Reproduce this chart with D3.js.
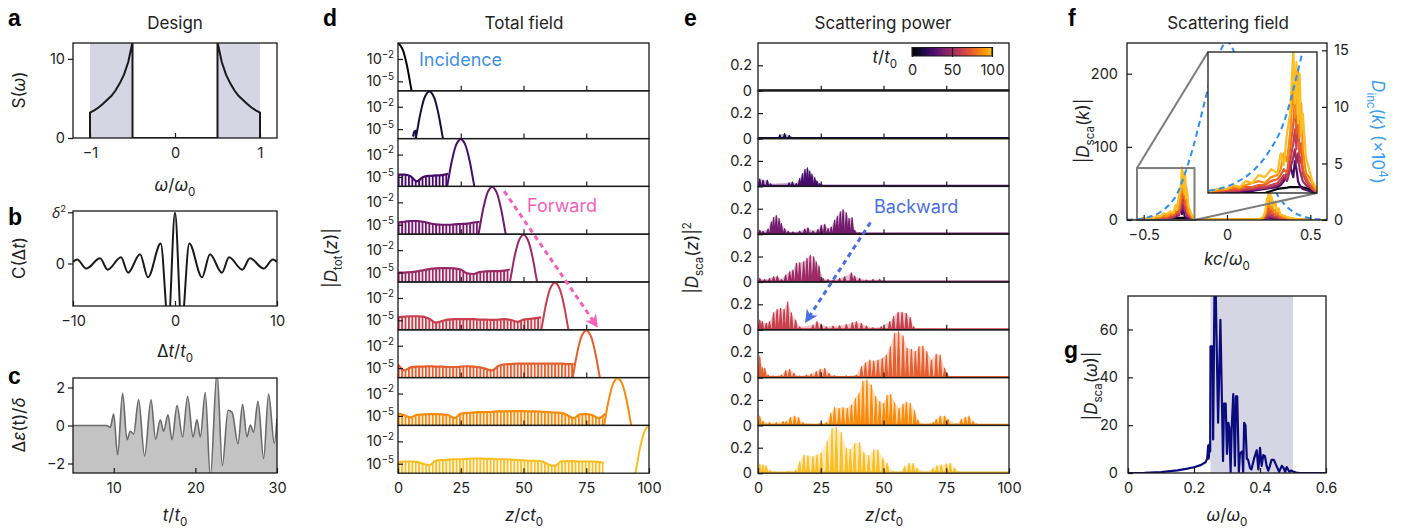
<!DOCTYPE html>
<html>
<head>
<meta charset="utf-8">
<title>Spatiotemporal scattering</title>
<script src="https://cdn.jsdelivr.net/npm/d3@7"></script>
<style>
  body { margin: 0; background: #fff; }
  svg text { font-family: Inter, "Noto Sans", "DejaVu Sans", sans-serif; fill: #222; }
</style>
</head>
<body>
<svg id="fig" width="1402" height="532"></svg>
<script>
// ---------------- data ----------------

// a: design spectrum S(w)
const designW = [-1, -1, -0.95, -0.9, -0.85, -0.8, -0.75, -0.7, -0.65, -0.6, -0.55, -0.5, -0.5,
                 0.5, 0.5, 0.55, 0.6, 0.65, 0.7, 0.75, 0.8, 0.85, 0.9, 0.95, 1, 1];
const designS = [0, 3.2, 3.5, 3.85, 4.3, 4.8, 5.3, 6.0, 6.9, 8.0, 9.6, 12.1, 0,
                 0, 12.1, 9.6, 8.0, 6.9, 6.0, 5.3, 4.8, 4.3, 3.85, 3.5, 3.2, 0];
const designBands = [[-1, -0.5], [0.5, 1]];

// b: correlation C(dt)
const corrT = [-10, -9.6, -8.7, -7.35, -6.6, -5.3, -4.6, -3.43, -2.65, -1.4, -0.65, 0,
               0.65, 1.4, 2.65, 3.43, 4.6, 5.3, 6.6, 7.35, 8.7, 9.6, 10];
const corrC = [0.03, 0.08, -0.1, 0.1, -0.12, 0.12, -0.18, 0.18, -0.27, 0.39, -1.2, 0.99,
               -1.2, 0.39, -0.27, 0.18, -0.18, 0.12, -0.12, 0.1, -0.1, 0.08, 0.03];

// c: modulation de(t)/delta
const epsT = [5, 9.08, 9.57, 9.98, 10.47, 11.08, 11.62, 12.02, 12.43, 13.04, 13.77, 14.56, 15.12,
              15.70, 16.10, 16.64, 17.13, 17.75, 18.43, 19.04, 19.71, 20.20, 20.60, 21.21, 21.83,
              22.65, 23.30, 24.0, 24.49, 25.22, 25.78, 26.32, 26.73, 27.13, 27.67, 28.36, 28.97, 29.67, 30];
const epsV = [0, 0, -0.1, 0.6, -1.54, 1.70, -0.75, -0.3, -0.45, 1.35, -1.6, 1.35, -0.72,
              0.3, -0.3, 0.56, -0.75, 1.05, -0.6, 1.53, -0.6, 0.3, -0.6, 1.74, -2.7,
              2.8, -2.1, 0.8, 0.7, -0.95, 1.1, -0.6, 0.03, -0.35, 1.27, -1.73, 1.66, -0.93, 0.35];

// d: total field snapshots (log10 values)
const snapTimes = [0, 12.5, 25, 37.5, 50, 62.5, 75, 87.5, 100];
const pulseCenters = [0, 12.5, 25, 37.5, 50, 62.5, 75, 87.5, 100];
const pulseDz = [-5.6, -5, -4.5, -4, -3, -2, -1, 0, 1, 2, 3, 4, 4.5, 5, 5.6];
const pulseLog = [-6.6, -5.5, -4.55, -3.6, -2.05, -0.85, -0.2, 0.05, -0.2, -0.85, -2.05, -3.6, -4.55, -5.5, -6.6];
const fringeTops = [
  [],
  [[6.0, -6.0], [6.6, -5.3], [7.4, -5.2]],
  [[0, -4.7], [2.5, -4.7], [5, -4.9], [7.5, -5.6], [10, -5.0], [12.5, -4.85], [15, -4.8], [17.5, -4.75], [20, -4.6]],
  [[0, -4.7], [2.5, -4.6], [5, -4.5], [7.5, -4.5], [10, -4.6], [12.5, -4.8], [15, -4.95], [17.5, -5.0], [20, -5.0],
   [22.5, -4.95], [25, -4.9], [27.5, -4.85], [30, -4.7], [32.5, -4.6]],
  [[0, -5.0], [2.5, -5.0], [5, -4.95], [7.5, -4.85], [10, -4.7], [12.5, -4.55], [15, -4.45], [17.5, -4.4], [20, -4.4],
   [22.5, -4.45], [25, -4.6], [27.5, -5.1], [30, -5.2], [32.5, -4.95], [35, -4.85], [37.5, -4.8], [40, -4.8],
   [42.5, -4.75], [44.5, -4.6]],
  [[0, -4.6], [2.5, -4.5], [5, -4.45], [7.5, -4.45], [10, -4.5], [12.5, -4.8], [15, -5.3], [17.5, -5.1], [20, -4.9],
   [22.5, -4.85], [25, -4.85], [27.5, -4.85], [30, -4.85], [32.5, -4.9], [35, -4.9], [37.5, -4.95], [40, -4.9],
   [42.5, -4.85], [45, -4.95], [47.5, -5.2], [50, -4.9], [52.5, -4.8], [55, -4.7], [57, -4.6]],
  [[0, -4.5], [2.5, -5.3], [5, -4.9], [7.5, -4.8], [10, -4.8], [12.5, -4.75], [15, -4.8], [17.5, -4.8], [20, -4.85],
   [22.5, -4.85], [25, -4.8], [27.5, -4.75], [30, -4.8], [32.5, -4.9], [35, -5.1], [37.5, -5.3], [40, -4.7],
   [42.5, -4.5], [45, -4.45], [47.5, -4.4], [50, -4.4], [52.5, -4.4], [55, -4.4], [57.5, -4.4], [60, -4.4],
   [62.5, -4.4], [65, -4.4], [67.5, -4.45], [70, -4.45]],
  [[0, -4.7], [2.5, -4.9], [5, -5.2], [7.5, -4.85], [10, -4.8], [12.5, -4.75], [15, -4.75], [17.5, -4.8], [20, -4.9],
   [22.5, -5.3], [25, -4.7], [27.5, -4.6], [30, -4.55], [32.5, -4.5], [35, -4.5], [37.5, -4.45], [40, -4.4],
   [42.5, -4.4], [45, -4.35], [47.5, -4.35], [50, -4.35], [52.5, -4.4], [55, -4.4], [57.5, -4.45], [60, -4.5],
   [62.5, -4.55], [65, -4.6], [67.5, -4.9], [70, -5.3], [72.5, -4.8], [75, -4.75], [77.5, -4.9], [80, -5.3], [82.5, -4.7]],
  [[0, -4.8], [2.5, -4.7], [5, -4.7], [7.5, -4.75], [10, -5.0], [12.5, -5.2], [15, -4.6], [17.5, -4.5], [20, -4.45],
   [22.5, -4.4], [25, -4.4], [27.5, -4.35], [30, -4.3], [32.5, -4.3], [35, -4.35], [37.5, -4.35], [40, -4.4],
   [42.5, -4.4], [45, -4.45], [47.5, -4.5], [50, -4.55], [52.5, -4.6], [55, -4.6], [57.5, -4.7], [60, -5.1],
   [62.5, -5.3], [65, -4.7], [67.5, -4.65], [70, -4.65], [72.5, -4.7], [75, -4.7], [77.5, -4.7], [80, -4.75], [82, -4.9]]
];

// e: scattering power spikes [z, |Dsca|^2]
const scatSpikes = [
  [],
  [[8.7, 0.03], [10.6, 0.04], [12.5, 0.025], [14.4, 0.008]],
  [[0.7, 0.059], [2.0, 0.049], [3.7, 0.049], [5.0, 0.02], [12.4, 0.028], [13.7, 0.035], [15.3, 0.022], [16.6, 0.062],
   [17.7, 0.10], [18.7, 0.132], [19.7, 0.145], [20.6, 0.12], [21.5, 0.095], [22.6, 0.07], [23.5, 0.043], [24.6, 0.022], [25.6, 0.01]],
  [[0.7, 0.031], [2.0, 0.024], [4.0, 0.04], [5.3, 0.097], [6.2, 0.13], [7.3, 0.146], [8.4, 0.123], [9.3, 0.084],
   [10.6, 0.044], [12.0, 0.024], [13.9, 0.018], [16.6, 0.024], [18.6, 0.04], [19.9, 0.05], [21.9, 0.026], [23.9, 0.037],
   [25.2, 0.07], [26.6, 0.078], [27.9, 0.044], [29.2, 0.057], [30.5, 0.11], [31.6, 0.141], [32.8, 0.175], [33.9, 0.193],
   [35.2, 0.167], [36.3, 0.123], [37.5, 0.13], [38.5, 0.031], [40.5, 0.01]],
  [[0.7, 0.028], [2.7, 0.02], [4.6, 0.028], [6.2, 0.041], [7.7, 0.046], [9.3, 0.02], [11.0, 0.054], [12.6, 0.08],
   [13.9, 0.093], [15.3, 0.146], [16.6, 0.151], [18.2, 0.159], [19.5, 0.185], [20.8, 0.21], [22.2, 0.198], [23.2, 0.159],
   [24.3, 0.125], [25.9, 0.028], [27.9, 0.02], [30.0, 0.015], [32.5, 0.028], [34.5, 0.041], [37.2, 0.072], [38.5, 0.046],
   [40.5, 0.028], [43.2, 0.015], [45.8, 0.02], [48.5, 0.02], [50.5, 0.007]],
  [[0.7, 0.077], [1.7, 0.064], [3.3, 0.05], [4.6, 0.064], [6.2, 0.134], [7.6, 0.16], [9.0, 0.168], [10.4, 0.16],
   [11.8, 0.22], [13.3, 0.134], [15.0, 0.077], [16.6, 0.024], [21.9, 0.037], [23.5, 0.064], [25.2, 0.045], [27.2, 0.024],
   [29.9, 0.03], [32.5, 0.032], [35.2, 0.042], [37.6, 0.056], [39.2, 0.064], [41.2, 0.05], [43.2, 0.03], [45.8, 0.017],
   [49.1, 0.024], [52.5, 0.064], [54.0, 0.103], [55.8, 0.137], [57.4, 0.137], [59.1, 0.129], [60.7, 0.097], [62.0, 0.024]],
  [[0.7, 0.17], [1.7, 0.08], [2.7, 0.073], [4.0, 0.02], [6.0, 0.013], [9.3, 0.02], [11.0, 0.055], [12.6, 0.065],
   [14.3, 0.034], [16.6, 0.013], [19.3, 0.02], [21.2, 0.028], [23.2, 0.047], [24.8, 0.065], [26.6, 0.073], [28.3, 0.034],
   [30.5, 0.015], [35.2, 0.013], [39.2, 0.02], [41.2, 0.086], [42.8, 0.117], [44.5, 0.138], [46.1, 0.13], [47.8, 0.138],
   [49.5, 0.151], [51.1, 0.177], [52.7, 0.243], [54.4, 0.347], [56.0, 0.36], [57.8, 0.327], [59.4, 0.23], [61.1, 0.222],
   [62.7, 0.204], [64.1, 0.243], [65.7, 0.248], [67.3, 0.204], [69.1, 0.138], [71.0, 0.185], [72.6, 0.177], [74.4, 0.073], [75.3, 0.034]],
  [[0.7, 0.074], [2.0, 0.03], [4.6, 0.022], [7.3, 0.022], [10.0, 0.03], [11.3, 0.03], [12.9, 0.064], [14.6, 0.074],
   [16.2, 0.061], [17.9, 0.022], [20.6, 0.011], [24.6, 0.017], [27.2, 0.022], [29.0, 0.095], [30.5, 0.14], [32.3, 0.134],
   [33.9, 0.14], [35.6, 0.134], [37.2, 0.16], [38.8, 0.213], [40.2, 0.252], [41.8, 0.349], [43.4, 0.357], [45.2, 0.317],
   [46.9, 0.226], [48.5, 0.187], [50.1, 0.174], [51.4, 0.239], [52.9, 0.244], [54.4, 0.179], [56.2, 0.134], [57.8, 0.168],
   [59.1, 0.181], [60.7, 0.174], [62.4, 0.116], [63.7, 0.043], [65.7, 0.011], [69.7, 0.022], [71.0, 0.048], [72.6, 0.074],
   [74.4, 0.074], [75.7, 0.048], [79.0, 0.011], [81.0, 0.048], [82.6, 0.064], [84.1, 0.074], [85.7, 0.03], [87.0, 0.011]],
  [[0.7, 0.071], [2.0, 0.065], [3.3, 0.058], [4.9, 0.021], [8.6, 0.008], [11.9, 0.013], [15.0, 0.026], [16.6, 0.092],
   [18.3, 0.144], [19.9, 0.136], [21.9, 0.131], [23.5, 0.144], [25.2, 0.162], [27.6, 0.248], [29.5, 0.353], [31.2, 0.361],
   [33.2, 0.319], [35.2, 0.196], [36.8, 0.188], [38.5, 0.235], [40.5, 0.24], [42.2, 0.162], [44.1, 0.136], [46.1, 0.183],
   [47.8, 0.183], [49.8, 0.118], [51.5, 0.078], [53.8, 0.013], [56.4, 0.005], [58.4, 0.052], [60.2, 0.078], [61.8, 0.078],
   [63.4, 0.039], [67.0, 0.008], [69.7, 0.039], [71.3, 0.06], [73.0, 0.065], [75.0, 0.073], [76.6, 0.078], [78.4, 0.039], [79.7, 0.013]]
];

// f: scattering field spectra |Dsca(k)| for several times, and incident spectrum (x1e4)
const specTimes = [0, 25, 50, 62.5, 75, 87.5, 100];
const kLeft = [-0.54, -0.52, -0.50, -0.48, -0.46, -0.44, -0.42, -0.40, -0.38, -0.36, -0.34, -0.32, -0.31, -0.30,
               -0.29, -0.28, -0.27, -0.265, -0.26, -0.255, -0.25, -0.245, -0.24, -0.23, -0.22, -0.21, -0.20, -0.19];
const specLeft = [
  [0, 0, 0, 0, 0, 0, 0, 0, 0, 0, 1, 2, 2.3, 2.5, 2.7, 3, 3, 3, 3, 3, 3, 3, 2.8, 2.5, 2, 1.5, 1, 0.5],
  [0, 0, 0.2, 0.3, 0.5, 0.5, 1, 1, 1.5, 2, 2.5, 3, 4, 6, 10, 14, 8, 16, 12, 6, 4, 3, 2, 1.5, 1, 0.5, 0, 0],
  [0, 0.3, 0.5, 0.8, 1, 1, 1.5, 2, 2, 2.5, 3, 4, 5, 8, 6, 12, 18, 22, 15, 20, 12, 9, 6, 4, 3, 2, 1, 0.3],
  [0.1, 0.3, 0.5, 1, 1, 1.5, 2, 2, 3, 3, 4, 5, 7, 9, 8, 16, 25, 32, 22, 45, 15, 18, 10, 6, 4, 2, 1, 0.3],
  [0.2, 0.5, 1, 1.5, 2, 2, 3, 3, 4, 4, 6, 7, 9, 12, 10, 22, 35, 45, 30, 40, 20, 25, 12, 8, 5, 3, 1, 0.5],
  [0.3, 1, 1.5, 2, 3, 2.5, 4, 5, 6, 5, 8, 9, 12, 20, 16, 30, 55, 38, 50, 62, 28, 45, 22, 10, 8, 5, 2, 1],
  [0.5, 1.5, 2.5, 2, 4, 3, 6, 5, 9, 8, 12, 10, 20, 14, 30, 40, 72, 45, 66, 35, 60, 30, 40, 18, 12, 6, 3, 1]
];
const kRight = [0.19, 0.21, 0.22, 0.23, 0.24, 0.245, 0.25, 0.255, 0.26, 0.265, 0.27, 0.28, 0.29, 0.30, 0.31,
                0.32, 0.34, 0.36, 0.38, 0.40, 0.44, 0.48, 0.52];
const specRight = [
  [0.5, 1, 1.5, 2, 2.5, 2.5, 2.5, 2.5, 2.5, 2.5, 2.5, 2, 2, 1.5, 1.2, 1, 0.5, 0.2, 0, 0, 0, 0, 0],
  [0, 0.2, 0.5, 1, 2, 2, 3, 2.5, 2.5, 2, 2, 1.5, 1.5, 1, 1, 0.8, 0.5, 0.3, 0.2, 0, 0, 0, 0],
  [0.2, 0.5, 1, 2, 4, 3, 6, 5, 5, 4, 4, 3, 3, 2, 2, 1.5, 1, 0.8, 0.5, 0.3, 0.2, 0, 0],
  [0.3, 1, 2, 4, 8, 6, 12, 9, 10, 6, 7, 5, 5, 4, 3, 2, 2, 1, 1, 0.5, 0.3, 0.1, 0],
  [0.5, 1.5, 3, 6, 12, 10, 22, 14, 18, 10, 12, 8, 9, 6, 6, 4, 3, 2, 1.5, 1, 0.5, 0.2, 0],
  [0.8, 2, 4, 8, 20, 28, 18, 32, 22, 15, 20, 12, 14, 8, 10, 6, 4, 3, 2, 1.5, 0.8, 0.3, 0],
  [1, 3, 6, 12, 30, 22, 45, 28, 40, 20, 30, 18, 25, 12, 16, 8, 6, 4, 3, 2, 1, 0.5, 0]
];
const dincK = [-0.6, -0.55, -0.5, -0.45, -0.4, -0.35, -0.3, -0.25, -0.2, -0.15, -0.1, -0.05, 0,
               0.05, 0.1, 0.15, 0.2, 0.25, 0.3, 0.35, 0.4, 0.45, 0.5, 0.55, 0.6];
const dincV = [0.02, 0.06, 0.15, 0.35, 0.7, 1.3, 2.3, 4.2, 6.6, 9.5, 12.4, 14.6, 15.8,
               14.6, 12.4, 9.5, 6.6, 4.2, 2.3, 1.3, 0.7, 0.35, 0.15, 0.06, 0.02];
const zoomK = [-0.54, -0.195];
const zoomY = [0, 71];

// g: |Dsca(w)|
const gOmega = [0, 0.05, 0.1, 0.15, 0.18, 0.2, 0.22, 0.235, 0.24, 0.243, 0.245, 0.247, 0.249, 0.25, 0.256,
                0.258, 0.262, 0.266, 0.273, 0.280, 0.288, 0.291, 0.296, 0.300, 0.304, 0.307, 0.311, 0.314,
                0.319, 0.324, 0.327, 0.331, 0.336, 0.339, 0.342, 0.346, 0.349, 0.352, 0.356, 0.360, 0.364,
                0.370, 0.374, 0.382, 0.390, 0.395, 0.400, 0.405, 0.410, 0.415, 0.420, 0.425, 0.430, 0.435,
                0.442, 0.450, 0.458, 0.466, 0.472, 0.476, 0.481, 0.485, 0.489, 0.494, 0.50, 0.51, 0.52, 0.6];
const gVal = [0, 0.1, 0.4, 1.1, 1.8, 2.4, 3.3, 4.5, 6, 11.5, 6, 12, 9, 53, 53,
              14, 74.5, 74.5, 21, 64, 5, 29, 29, 8, 21, 19, 0.5, 18,
              33, 3, 32, 32, 0.5, 8, 8.5, 9, 0.5, 21, 20, 6, 5.5,
              2, 1.5, 6, 9.5, 1.5, 10.5, 3, 7.5, 7, 3, 1, 3, 5.5,
              5.5, 3, 0.5, 3, 2, 0.5, 2.5, 1.5, 0.5, 1, 0.6, 0.2, 0, 0];
const gBand = [0.25, 0.5];

// annotation arrows: [z, panel index, value]
const forwardArrow = [[42.3, 3, -0.5], [78.5, 5, -5.43]];
const backwardArrow = [[44.8, 3, 0.092], [19.9, 5, 0.088]];

// ---------------- drawing ----------------
const svg = d3.select('#fig');
const defs = svg.append('defs');
const INK = '#1a1a1a';
const SHADE = '#d5d5e4';
const tColor = t => d3.interpolateInferno(0.85 * t / 100);

let clipN = 0;
function clipRect(x0, y0, x1, y1) {
  const id = 'clip' + (clipN++);
  defs.append('clipPath').attr('id', id).append('rect')
    .attr('x', x0).attr('y', y0).attr('width', x1 - x0).attr('height', y1 - y0);
  return 'url(#' + id + ')';
}

function frame(x0, y0, x1, y1) {
  svg.append('rect').attr('x', x0).attr('y', y0).attr('width', x1 - x0).attr('height', y1 - y0)
    .attr('fill', 'none').attr('stroke', INK).attr('stroke-width', 1.3);
}

function axis(gen, x, y) {
  const g = svg.append('g').attr('transform', `translate(${x},${y})`).call(gen);
  g.attr('font-size', 14.5);
  g.select('.domain').remove();
  g.selectAll('line').attr('stroke', INK).attr('stroke-width', 1.2);
  return g;
}

// text with italic / sub / superscript parts
function label(x, y, parts, o = {}) {
  const size = o.size || 17;
  const t = svg.append('text').attr('x', x).attr('y', y)
    .attr('font-size', size).attr('text-anchor', o.anchor || 'middle');
  if (o.color) t.style('fill', o.color);
  if (o.rotate) t.attr('transform', `rotate(${o.rotate},${x},${y})`);
  let cur = 0;
  parts.forEach(p => {
    if (typeof p === 'string') p = { t: p };
    const want = p.sub ? 0.28 * size : p.sup ? -0.42 * size : 0;
    const s = t.append('tspan').text(p.t).attr('dy', want - cur);
    cur = want;
    if (p.i) s.attr('font-style', 'italic');
    if (p.sub || p.sup) s.attr('font-size', size * 0.68);
  });
  return t;
}

function letter(x, y, s) {
  svg.append('text').attr('x', x).attr('y', y).text(s)
    .attr('font-size', 23).attr('font-weight', 'bold')
    .style('font-family', '"Liberation Sans", Arial, sans-serif').style('fill', '#000');
}

// ===== a =====
const ax = d3.scaleLinear().domain([-1.2, 1.2]).range([73, 277]);
const ay = d3.scaleLinear().domain([0, 12]).range([138, 43]);
svg.append('g').selectAll('rect').data(designBands).join('rect')
  .attr('x', d => ax(d[0])).attr('width', d => ax(d[1]) - ax(d[0]))
  .attr('y', ay(12)).attr('height', ay(0) - ay(12)).attr('fill', SHADE);
svg.append('path').datum(d3.zip(designW, designS))
  .attr('clip-path', clipRect(73, 43, 277, 138))
  .attr('d', d3.line().x(d => ax(d[0])).y(d => ay(d[1])))
  .attr('fill', 'none').attr('stroke', INK).attr('stroke-width', 2);
frame(73, 43, 277, 138);
axis(d3.axisLeft(ay).tickValues([0, 10]).tickSize(5).tickPadding(3), 73, 0);
axis(d3.axisBottom(ax).tickValues([-1, 0, 1]).tickSize(-5).tickPadding(10).tickFormat(d3.format('d')), 0, 138);
label(175, 29, ['Design']);
label(175, 191, [{ t: 'ω', i: 1 }, '/', { t: 'ω', i: 1 }, { t: '0', sub: 1 }]);
label(25, 90, ['S(', { t: 'ω', i: 1 }, ')'], { rotate: -90 });
letter(8, 26, 'a');

// ===== b =====
const bx = d3.scaleLinear().domain([-10, 10]).range([73, 277]);
const by = d3.scaleLinear().domain([-0.83, 1.025]).range([306, 211]);
svg.append('path').datum(d3.zip(corrT, corrC))
  .attr('clip-path', clipRect(73, 211, 277, 306))
  .attr('d', d3.line().x(d => bx(d[0])).y(d => by(d[1])).curve(d3.curveMonotoneX))
  .attr('fill', 'none').attr('stroke', INK).attr('stroke-width', 2);
frame(73, 211, 277, 306);
axis(d3.axisLeft(by).tickValues([0, 1]).tickSize(5).tickPadding(3).tickFormat(d => d === 0 ? '0' : ''), 73, 0);
label(66, by(1) + 6, [{ t: 'δ', i: 1 }, { t: '2', sup: 1 }], { anchor: 'end', size: 14 });
axis(d3.axisBottom(bx).tickValues([-10, 0, 10]).tickSize(-5).tickPadding(10).tickFormat(d3.format('d')), 0, 306);
label(175, 357, ['Δ', { t: 't', i: 1 }, '/', { t: 't', i: 1 }, { t: '0', sub: 1 }]);
label(25, 258, ['C(Δ', { t: 't', i: 1 }, ')'], { rotate: -90 });
letter(8, 225, 'b');

// ===== c =====
const cx = d3.scaleLinear().domain([5, 30]).range([73, 277]);
const cy = d3.scaleLinear().domain([-2.5, 2.5]).range([473, 378]);
const cClip = clipRect(73, 378, 277, 473);
svg.append('path').datum(d3.zip(epsT, epsV)).attr('clip-path', cClip)
  .attr('d', d3.area().x(d => cx(d[0])).y0(cy(-2.5)).y1(d => cy(d[1])).curve(d3.curveMonotoneX))
  .attr('fill', '#c3c3c3');
svg.append('path').datum(d3.zip(epsT, epsV)).attr('clip-path', cClip)
  .attr('d', d3.line().x(d => cx(d[0])).y(d => cy(d[1])).curve(d3.curveMonotoneX))
  .attr('fill', 'none').attr('stroke', '#6b6b6b').attr('stroke-width', 1.6);
frame(73, 378, 277, 473);
axis(d3.axisLeft(cy).tickValues([-2, 0, 2]).tickSize(5).tickPadding(3).tickFormat(d3.format('d')), 73, 0);
axis(d3.axisBottom(cx).tickValues([10, 20, 30]).tickSize(-5).tickPadding(10).tickFormat(d3.format('d')), 0, 473);
label(175, 521, [{ t: 't', i: 1 }, '/', { t: 't', i: 1 }, { t: '0', sub: 1 }]);
label(25, 425, ['Δ', { t: 'ε', i: 1 }, '(t)/', { t: 'δ', i: 1 }], { rotate: -90 });
letter(8, 384, 'c');

// ===== d =====
const D_TOP = 43, D_H = 47.8, LOG_MIN = -6.27, LOG_MAX = 0.14;
const dx = d3.scaleLinear().domain([0, 100]).range([398, 649]);
const dYScale = i => d3.scaleLog().domain([Math.pow(10, LOG_MIN), Math.pow(10, LOG_MAX)])
  .range([D_TOP + (i + 1) * D_H, D_TOP + i * D_H]);

snapTimes.forEach((t, i) => {
  const p = defs.append('pattern').attr('id', 'stripe' + i).attr('patternUnits', 'userSpaceOnUse')
    .attr('width', 3.4).attr('height', 8);
  p.append('rect').attr('width', 1.9).attr('height', 8).attr('fill', tColor(t));
});

snapTimes.forEach((t, i) => {
  const y0 = D_TOP + i * D_H, y1 = y0 + D_H;
  const dy = dYScale(i);
  const col = tColor(t);
  const g = svg.append('g').attr('clip-path', clipRect(398, y0, 649, y1));
  const fr = fringeTops[i];
  if (fr.length) {
    g.append('path').datum(fr)
      .attr('d', d3.area().x(d => dx(d[0])).y0(y1 + 2).y1(d => dy(Math.pow(10, d[1]))).curve(d3.curveMonotoneX))
      .attr('fill', `url(#stripe${i})`);
    g.append('path').datum(fr)
      .attr('d', d3.line().x(d => dx(d[0])).y(d => dy(Math.pow(10, d[1]))).curve(d3.curveMonotoneX))
      .attr('fill', 'none').attr('stroke', col).attr('stroke-width', 2.2);
  }
  const pulse = pulseDz.map((dz, j) => [pulseCenters[i] + dz, pulseLog[j]]);
  g.append('path').datum(pulse)
    .attr('d', d3.line().x(d => dx(d[0])).y(d => dy(Math.pow(10, d[1]))).curve(d3.curveMonotoneX))
    .attr('fill', 'none').attr('stroke', col).attr('stroke-width', 2);
  frame(398, y0, 649, y1);
  axis(d3.axisLeft(dy).tickValues([1e-2, 1e-5]).tickSize(-5).tickFormat(() => ''), 398, 0);
  [1e-2, 1e-5].forEach(v => {
    label(394, dy(v) + 5, ['10', { t: '−' + Math.round(-Math.log10(v)), sup: 1 }], { anchor: 'end', size: 14.5 });
  });
  const last = i === snapTimes.length - 1;
  axis(d3.axisBottom(dx).tickValues(last ? [0, 25, 50, 75, 100] : [25, 50, 75]).tickSize(-5).tickPadding(10)
    .tickFormat(last ? d3.format('d') : () => ''), 0, y1);
});
label(524, 29, ['Total field']);
label(524, 521, [{ t: 'z', i: 1 }, '/', { t: 'ct', i: 1 }, { t: '0', sub: 1 }]);
label(337, 258, ['|', { t: 'D', i: 1 }, { t: 'tot', sub: 1 }, '(', { t: 'z', i: 1 }, ')|'], { rotate: -90 });
letter(323, 26, 'd');
svg.append('text').attr('x', 419).attr('y', 66).text('Incidence')
  .attr('font-size', 18).style('fill', '#3f8fe8');

// ===== e =====
const ex = d3.scaleLinear().domain([0, 100]).range([758, 1009]);
const eYScale = i => d3.scaleLinear().domain([0, 0.375]).range([D_TOP + (i + 1) * D_H, D_TOP + i * D_H]);
snapTimes.forEach((t, i) => {
  const y0 = D_TOP + i * D_H, y1 = y0 + D_H;
  const ey = eYScale(i);
  const col = tColor(t);
  const g = svg.append('g').attr('clip-path', clipRect(758, y0, 1009, y1));
  const sp = scatSpikes[i];
  if (sp.length) {
    const env = [[sp[0][0] - 0.8, 0], ...sp, [sp[sp.length - 1][0] + 0.8, 0]];
    g.append('path').datum(env)
      .attr('d', d3.area().x(d => ex(d[0])).y0(ey(0)).y1(d => ey(d[1])))
      .attr('fill', col).attr('fill-opacity', 0.3);
    const spk = d3.line().x(d => ex(d[0])).y(d => ey(d[1]));
    g.selectAll('path.spk').data(sp).join('path').attr('class', 'spk')
      .attr('d', d => spk([[d[0] - 0.6, 0], [d[0], d[1]], [d[0] + 0.6, 0]]))
      .attr('fill', col).attr('stroke', col).attr('stroke-width', 1.1).attr('stroke-linejoin', 'round');
  }
  g.append('line').attr('x1', ex(0)).attr('x2', ex(100)).attr('y1', ey(0) - 0.8).attr('y2', ey(0) - 0.8)
    .attr('stroke', col).attr('stroke-width', 1.6);
  frame(758, y0, 1009, y1);
  axis(d3.axisLeft(ey).tickValues([0, 0.2]).tickSize(-5).tickPadding(6).tickFormat(d => d === 0 ? '0' : '0.2'), 758, 0);
  const last = i === snapTimes.length - 1;
  axis(d3.axisBottom(ex).tickValues(last ? [0, 25, 50, 75, 100] : [25, 50, 75]).tickSize(-5).tickPadding(10)
    .tickFormat(last ? d3.format('d') : () => ''), 0, y1);
});
label(883, 29, ['Scattering power']);
label(884, 521, [{ t: 'z', i: 1 }, '/', { t: 'ct', i: 1 }, { t: '0', sub: 1 }]);
label(698, 258, ['|', { t: 'D', i: 1 }, { t: 'sca', sub: 1 }, '(', { t: 'z', i: 1 }, ')|', { t: '2', sup: 1 }], { rotate: -90 });
letter(684, 26, 'e');

// colour bar
const grad = defs.append('linearGradient').attr('id', 'cbar');
d3.range(0, 1.0001, 0.1).forEach(s => grad.append('stop').attr('offset', s).attr('stop-color', tColor(100 * s)));
const cbx = d3.scaleLinear().domain([0, 100]).range([912, 992]);
svg.append('rect').attr('x', cbx(0)).attr('y', 47.5).attr('width', cbx(100) - cbx(0)).attr('height', 8.5)
  .attr('fill', 'url(#cbar)').attr('stroke', INK).attr('stroke-width', 1);
axis(d3.axisBottom(cbx).tickValues([0, 50, 100]).tickSize(-10).tickPadding(8).tickFormat(d3.format('d')), 0, 57);
label(897, 63, [{ t: 't', i: 1 }, '/', { t: 't', i: 1 }, { t: '0', sub: 1 }], { anchor: 'end' });

// arrows
function marker(id, col) {
  defs.append('marker').attr('id', id).attr('viewBox', '0 0 10 10').attr('refX', 6).attr('refY', 5)
    .attr('markerUnits', 'userSpaceOnUse').attr('markerWidth', 13).attr('markerHeight', 13).attr('orient', 'auto')
    .append('path').attr('d', 'M0,0 L10,5 L0,10 L3,5 z').attr('fill', col);
}
const PINK = '#f55fb9', BLUE = '#4a6ee6';
marker('mPink', PINK); marker('mBlue', BLUE);
const fpts = forwardArrow.map(d => [dx(d[0]), dYScale(d[1])(Math.pow(10, d[2]))]);
svg.append('path').datum(fpts).attr('d', d3.line())
  .attr('stroke', PINK).attr('stroke-width', 3).attr('stroke-dasharray', '5,4').attr('fill', 'none')
  .attr('marker-end', 'url(#mPink)');
svg.append('text').attr('x', 527).attr('y', 212).text('Forward').attr('font-size', 18).style('fill', PINK);
const bpts = backwardArrow.map(d => [ex(d[0]), eYScale(d[1])(d[2])]);
svg.append('path').datum(bpts).attr('d', d3.line())
  .attr('stroke', BLUE).attr('stroke-width', 3).attr('stroke-dasharray', '5,4').attr('fill', 'none')
  .attr('marker-end', 'url(#mBlue)');
svg.append('text').attr('x', 874).attr('y', 213).text('Backward').attr('font-size', 18).style('fill', BLUE);

// ===== f =====
const fx = d3.scaleLinear().domain([-0.6, 0.6]).range([1127, 1327]);
const fy = d3.scaleLinear().domain([0, 242]).range([220, 43]);
const fy2 = d3.scaleLinear().domain([0, 15.65]).range([220, 43]);
const specPts = specTimes.map((t, j) => ({
  t,
  pts: [[-0.6, 0], ...kLeft.map((k, n) => [k, specLeft[j][n]]), ...kRight.map((k, n) => [k, specRight[j][n]]), [0.6, 0]]
}));
const DBLUE = '#2f8ff0';
function drawSpectra(g, sx, sy, w) {
  specPts.forEach(s => {
    g.append('path').datum(s.pts)
      .attr('d', d3.line().x(d => sx(d[0])).y(d => sy(d[1])))
      .attr('fill', 'none').attr('stroke', tColor(s.t)).attr('stroke-width', w).attr('stroke-linejoin', 'round');
  });
  g.append('path').datum(d3.zip(dincK, dincV))
    .attr('d', d3.line().x(d => sx(d[0])).y(d => sy(fy.invert(fy2(d[1])))).curve(d3.curveMonotoneX))
    .attr('fill', 'none').attr('stroke', DBLUE).attr('stroke-width', 2).attr('stroke-dasharray', '6,4');
}
const fMain = svg.append('g').attr('clip-path', clipRect(1127, 43, 1327, 220));
drawSpectra(fMain, fx, fy, 2.2);
// zoom box and connectors
const zx0 = fx(zoomK[0]), zx1 = fx(zoomK[1]), zy0 = fy(zoomY[1]), zy1 = fy(zoomY[0]);
const INS = { x0: 1208, x1: 1317, y0: 52, y1: 193 };
svg.append('rect').attr('x', zx0).attr('y', zy0).attr('width', zx1 - zx0).attr('height', zy1 - zy0)
  .attr('fill', 'none').attr('stroke', '#7c7c7c').attr('stroke-width', 2);
svg.append('line').attr('x1', zx0).attr('y1', zy0).attr('x2', INS.x0).attr('y2', INS.y0)
  .attr('stroke', '#7c7c7c').attr('stroke-width', 2);
svg.append('line').attr('x1', zx1).attr('y1', zy1).attr('x2', INS.x1).attr('y2', INS.y1)
  .attr('stroke', '#7c7c7c').attr('stroke-width', 2);
// inset
svg.append('rect').attr('x', INS.x0).attr('y', INS.y0).attr('width', INS.x1 - INS.x0).attr('height', INS.y1 - INS.y0)
  .attr('fill', '#fff');
const ix = d3.scaleLinear().domain(zoomK).range([INS.x0, INS.x1]);
const iy = d3.scaleLinear().domain(zoomY).range([INS.y1, INS.y0]);
const fIns = svg.append('g').attr('clip-path', clipRect(INS.x0, INS.y0, INS.x1, INS.y1));
drawSpectra(fIns, ix, iy, 2.2);
frame(INS.x0, INS.y0, INS.x1, INS.y1);
frame(1127, 43, 1327, 220);
axis(d3.axisLeft(fy).tickValues([0, 100, 200]).tickSize(-5).tickPadding(9), 1127, 0);
axis(d3.axisRight(fy2).tickValues([0, 5, 10, 15]).tickSize(-5).tickPadding(7), 1327, 0);
axis(d3.axisBottom(fx).tickValues([-0.5, 0, 0.5]).tickSize(-5).tickPadding(10)
  .tickFormat(d => d === 0 ? '0' : d3.format('.1f')(d)), 0, 220);
label(1228, 29, ['Scattering field']);
label(1227, 265, [{ t: 'kc', i: 1 }, '/', { t: 'ω', i: 1 }, { t: '0', sub: 1 }]);
label(1089, 131, ['|', { t: 'D', i: 1 }, { t: 'sca', sub: 1 }, '(', { t: 'k', i: 1 }, ')|'], { rotate: -90 });
label(1372, 132, [{ t: 'D', i: 1 }, { t: 'inc', sub: 1 }, '(', { t: 'k', i: 1 }, ') (×10', { t: '4', sup: 1 }, ')'],
  { rotate: 90, color: '#3a9cf2' });
letter(1068, 26, 'f');

// ===== g =====
const gx = d3.scaleLinear().domain([0, 0.6]).range([1128, 1326]);
const gy = d3.scaleLinear().domain([0, 74]).range([473, 296]);
svg.append('rect').attr('x', gx(gBand[0])).attr('width', gx(gBand[1]) - gx(gBand[0]))
  .attr('y', gy(74)).attr('height', gy(0) - gy(74)).attr('fill', SHADE);
svg.append('path').datum(d3.zip(gOmega, gVal)).attr('clip-path', clipRect(1128, 296, 1326, 473))
  .attr('d', d3.line().x(d => gx(d[0])).y(d => gy(d[1])))
  .attr('fill', 'none').attr('stroke', '#0b0b7e').attr('stroke-width', 2.2).attr('stroke-linejoin', 'round');
frame(1128, 296, 1326, 473);
axis(d3.axisLeft(gy).tickValues([0, 20, 40, 60]).tickSize(-5).tickPadding(10), 1128, 0);
axis(d3.axisBottom(gx).tickValues([0, 0.2, 0.4, 0.6]).tickSize(-5).tickPadding(10)
  .tickFormat(d => d === 0 ? '0' : d3.format('.1f')(d)), 0, 473);
label(1227, 521, [{ t: 'ω', i: 1 }, '/', { t: 'ω', i: 1 }, { t: '0', sub: 1 }]);
label(1097, 386, ['|', { t: 'D', i: 1 }, { t: 'sca', sub: 1 }, '(', { t: 'ω', i: 1 }, ')|'], { rotate: -90 });
letter(1064, 358, 'g');
</script>
</body>
</html>
